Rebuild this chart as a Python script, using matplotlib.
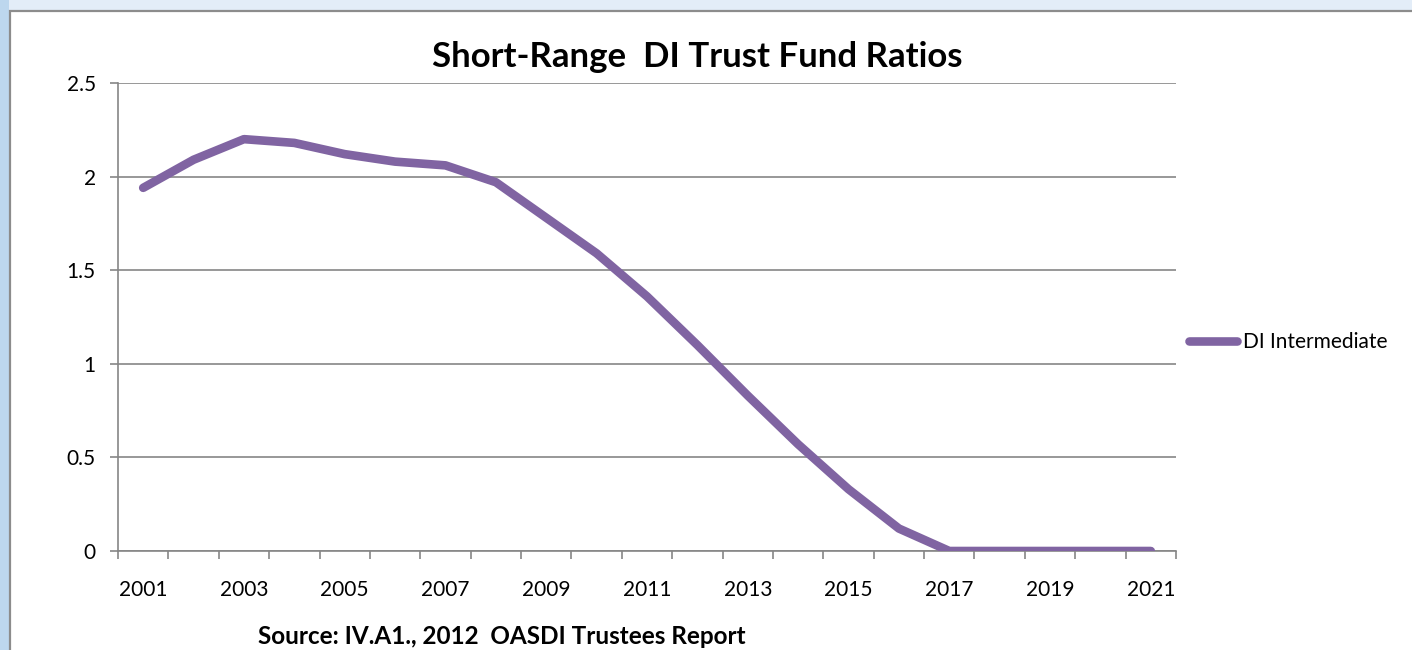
import numpy as np
import matplotlib.pyplot as plt
from matplotlib.patches import Rectangle

# dados
anos = [str(a) for a in range(2001, 2022)]
di_intermediate = [1.94, 2.09, 2.20, 2.18, 2.12, 2.08, 2.06, 1.97, 1.78, 1.59,
                   1.36, 1.10, 0.83, 0.57, 0.33, 0.12, 0.0, 0.0, 0.0, 0.0, 0.0]
y_ticks = [0, 0.5, 1, 1.5, 2, 2.5]
y_labels = ["0", "0.5", "1", "1.5", "2", "2.5"]

plt.rcParams["font.family"] = ["Lato", "DejaVu Sans"]

fig = plt.figure(figsize=(14.12, 6.5), dpi=100, facecolor="#e3edf8")
W, H = 1412, 650

# fundo: faixa azul à esquerda e painel branco com borda cinza
fig.patches.append(Rectangle((0, 0), 9 / W, 1, transform=fig.transFigure,
                             facecolor="#bdd7ee", edgecolor="none", zorder=-2))
fig.patches.append(Rectangle((9.5 / W, -0.01), 1.02, (640 - 0.5) / H + 0.01,
                             transform=fig.transFigure, facecolor="white",
                             edgecolor="#8c8c8c", linewidth=1.6, zorder=-1))

ax = fig.add_axes([118 / W, 99 / H, (1176 - 118) / W, (551 - 83) / H])
ax.set_facecolor("none")

x = np.arange(len(anos))
ax.plot(x, di_intermediate, color="#8064a2", linewidth=6.2,
        solid_capstyle="round", solid_joinstyle="round", label="DI Intermediate",
        zorder=3)

ax.set_xlim(-0.5, len(anos) - 0.5)
ax.set_ylim(0, 2.5)
ax.set_yticks(y_ticks)
ax.set_yticklabels(y_labels)
ax.set_xticks(x[::2])
ax.set_xticklabels(anos[::2])
ax.set_xticks(np.arange(-0.5, len(anos)), minor=True)

ax.grid(axis="y", color="#868686", linewidth=1.2, zorder=1)
for lado in ["top", "right"]:
    ax.spines[lado].set_visible(False)
for lado in ["left", "bottom"]:
    ax.spines[lado].set_color("#868686")
    ax.spines[lado].set_linewidth(1.2)

ax.tick_params(axis="x", which="major", length=0, pad=21, labelsize=15)
ax.tick_params(axis="x", which="minor", length=6, width=1.2, color="#868686")
ax.tick_params(axis="y", length=6, width=1.2, color="#868686", pad=10,
               labelsize=15)

fig.text(697 / W, 1 - 57 / H, "Short-Range  DI Trust Fund Ratios",
         ha="center", va="center", fontsize=25, fontweight="bold")
fig.text(258 / W, 1 - 637 / H, "Source: IV.A1., 2012  OASDI Trustees Report",
         ha="left", va="center", fontsize=17.5, fontweight="bold")

ax.legend(loc="center left", bbox_to_anchor=(1189 / W, 1 - 342 / H),
          bbox_transform=fig.transFigure, frameon=False, fontsize=15,
          handlelength=2.3, handletextpad=0.3, borderpad=0, borderaxespad=0)

fig.savefig("out.png", dpi=100, facecolor=fig.get_facecolor())
